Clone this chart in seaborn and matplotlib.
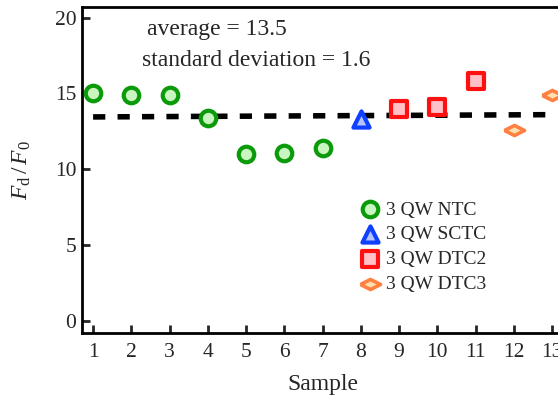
import numpy as np
import pandas as pd
import matplotlib
matplotlib.use("Agg")
import matplotlib.pyplot as plt
import seaborn as sns

samples = [1, 2, 3, 4, 5, 6, 7, 8, 9, 10, 11, 12, 13]
values = [15.0, 14.9, 14.9, 13.4, 11.0, 11.05, 11.4, 13.3, 14.0, 14.1, 15.8, 12.6, 14.9]
groups = ["3 QW NTC"] * 7 + ["3 QW SCTC"] + ["3 QW DTC2"] * 3 + ["3 QW DTC3"] * 2
fit_x = [1, 13]
fit_y = [13.45, 13.6]
xticks = list(range(1, 14))
yticks = [0, 5, 10, 15, 20]

sns.set_style("white")
plt.rcParams['font.family'] = ['Liberation Serif', 'DejaVu Serif']
plt.rcParams['mathtext.fontset'] = 'custom'
plt.rcParams['mathtext.rm'] = 'Liberation Serif'
plt.rcParams['mathtext.it'] = 'Liberation Serif:italic'

df = pd.DataFrame({"Sample": samples, "value": values, "group": groups})
fit = pd.DataFrame({"x": fit_x, "y": fit_y})

fig = plt.figure(figsize=(5.58, 3.98), dpi=100)
ax = fig.add_axes([82 / 558, 1 - 333 / 398, 1 - 82 / 558 + 0.01, (333 - 7) / 398])

sns.lineplot(data=fit, x="x", y="y", ax=ax, color="black", lw=4,
             linestyle=(0, (2.2, 2.2)), zorder=1)

wide_diamond = [(-1, 0), (0, 0.5), (1, 0), (0, -0.5), (-1, 0)]
styles = {
    "3 QW NTC": dict(marker="o", s=125, ec="#0a9a0a", fc="#c8f5c0", lw=3.0),
    "3 QW SCTC": dict(marker="^", s=135, ec="#1040ff", fc="#b4c4ff", lw=3.0),
    "3 QW DTC2": dict(marker="s", s=120, ec="#ff1010", fc="#ffc0c8", lw=3.0),
    "3 QW DTC3": dict(marker=wide_diamond, s=210, ec="#ff8040", fc="#ffe0b0", lw=2.6),
}
for g, st in styles.items():
    sub = df[df["group"] == g]
    sns.scatterplot(data=sub, x="Sample", y="value", ax=ax, marker=st["marker"],
                    s=st["s"], edgecolor=st["ec"], facecolor=st["fc"],
                    linewidth=st["lw"], label=g, zorder=3, clip_on=False)

ax.set_xlim(0.71, 13.3)
ax.set_ylim(-0.8, 20.7)
ax.set_xticks(xticks)
ax.set_yticks(yticks)
ax.tick_params(direction="in", length=6, width=2, labelsize=15.5,
               top=False, right=False, bottom=True, left=True)
ax.tick_params(axis="x", pad=7)
ax.tick_params(axis="y", pad=4)
for side in ["left", "bottom", "top"]:
    ax.spines[side].set_linewidth(2)
    ax.spines[side].set_color("black")
ax.spines["right"].set_visible(False)

ax.set_xlabel("Sample", fontsize=17, labelpad=9)
ax.set_ylabel(r"$F_{\mathrm{d}}\,/\,F_{0}$", fontsize=17, labelpad=16)

fig.text(147 / 558, 1 - 30 / 398, "average = 13.5", fontsize=17, va="center")
fig.text(142 / 558, 1 - 60 / 398, "standard deviation = 1.6", fontsize=17, va="center")

leg = ax.legend(loc="upper left", bbox_to_anchor=(0.559, 0.429), frameon=False,
                fontsize=14, handletextpad=0.3, labelspacing=0.37,
                borderaxespad=0, handlelength=1.1)

fig.savefig("out.png", dpi=100)
